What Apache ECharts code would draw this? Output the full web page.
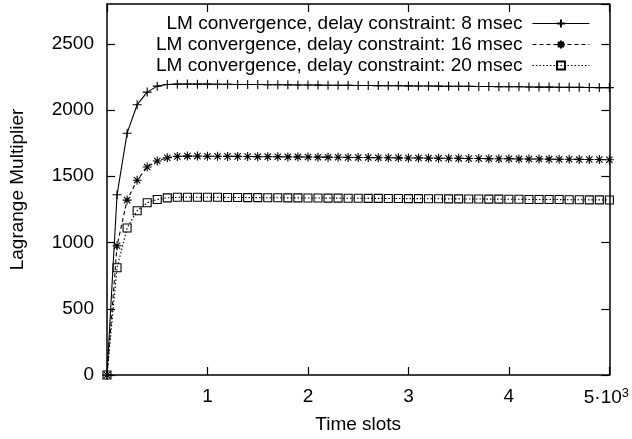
<!DOCTYPE html>
<html>
<head>
<meta charset="utf-8">
<script src="https://cdn.jsdelivr.net/npm/echarts@6/dist/echarts.min.js"></script>
<style>
html,body{margin:0;padding:0;background:#fff;}
#chart{width:632px;height:439px;}
</style>
</head>
<body>
<div id="chart"></div>
<script>
var timeSlots = [0,100,200,300,400,500,600,700,800,900,1000,1100,1200,1300,1400,1500,1600,1700,1800,1900,2000,2100,2200,2300,2400,2500,2600,2700,2800,2900,3000,3100,3200,3300,3400,3500,3600,3700,3800,3900,4000,4100,4200,4300,4400,4500,4600,4700,4800,4900,5000];
var lm8 = [0,1360,1825,2040,2135,2180,2192,2195,2196,2195,2195,2194,2194,2193,2193,2192,2191,2191,2190,2189,2189,2188,2187,2187,2186,2185,2185,2184,2183,2183,2182,2181,2181,2180,2179,2179,2178,2177,2177,2176,2175,2175,2174,2173,2173,2172,2171,2171,2170,2169,2169];
var lm16 = [0,975,1320,1470,1570,1615,1640,1650,1652,1652,1651,1651,1650,1650,1649,1648,1648,1647,1646,1646,1645,1644,1644,1643,1642,1642,1641,1640,1640,1639,1638,1638,1637,1636,1636,1635,1634,1634,1633,1632,1632,1631,1630,1630,1629,1628,1628,1627,1626,1626,1625];
var lm20 = [0,810,1110,1240,1300,1325,1337,1341,1342,1342,1341,1341,1340,1340,1339,1339,1338,1338,1337,1337,1336,1336,1335,1335,1334,1334,1333,1333,1332,1332,1331,1331,1330,1330,1329,1329,1328,1328,1327,1327,1326,1326,1325,1325,1324,1324,1323,1323,1322,1322,1321];
var seriesNames = ['LM convergence, delay constraint: 8 msec','LM convergence, delay constraint: 16 msec','LM convergence, delay constraint: 20 msec'];
var yTicks = [0,500,1000,1500,2000,2500];
var xTickLabels = {1000:'1',2000:'2',3000:'3',4000:'4',5000:'{a|5·10}{s|3}'};

var FONT = 'Liberation Sans';
var FS = 19;
function pairs(ys){ return timeSlots.map(function(x,i){ return [x, ys[i]]; }); }

var plusSym = 'path://M0,-1L0,1M-1,0L1,0';
var starSym = 'path://M0,-1L0,1M-1,0L1,0M-0.7,-0.7L0.7,0.7M-0.7,0.7L0.7,-0.7';
var boxSym = 'path://M-1,-1L1,-1L1,1L-1,1Z';

function mkSeries(name, ys, sym, size, dash){
  return {
    name: name, type: 'line', data: pairs(ys),
    xAxisIndex: 0, yAxisIndex: 0,
    symbol: sym, symbolSize: size, showAllSymbol: true,
    lineStyle: {color:'#000', width:1.1, type: dash},
    itemStyle: {color:'rgba(0,0,0,0)', borderColor:'#000', borderWidth:1.1},
    emphasis: {disabled:true},
    animation: false, z: 3
  };
}

var chart = echarts.init(document.getElementById('chart'), null, {renderer:'canvas'});
var axisLineStyle = {onZero:false, lineStyle:{color:'#000', width:1.5}};
var tickStyle = {show:true, inside:true, length:8, lineStyle:{color:'#000', width:1.2}};
chart.setOption({
  animation: false,
  backgroundColor: '#fff',
  grid: {left:105, right:22, top:4, bottom:63, containLabel:false},
  legend: {
    orient:'vertical', right:37, top:8, align:'right',
    itemWidth:57, itemHeight:10, itemGap:0,
    lineStyle:{width:1.1},
    textStyle:{fontFamily:FONT, fontSize:FS, color:'#000', lineHeight:21, padding:[0,5,0,0]},
    data: seriesNames,
    selectedMode:false
  },
  xAxis: [{
    type:'value', min:0, max:5000, interval:1000, position:'bottom',
    name:'Time slots', nameLocation:'middle', nameGap:40,
    nameTextStyle:{fontFamily:FONT, fontSize:FS, color:'#000'},
    axisLine:axisLineStyle, axisTick:tickStyle, splitLine:{show:false},
    axisLabel:{
      fontFamily:FONT, fontSize:FS, color:'#000', margin:12, showMinLabel:false,
      formatter:function(v){ return xTickLabels[v] || ''; },
      rich:{a:{fontFamily:FONT, fontSize:FS, color:'#000'}, s:{fontFamily:FONT, fontSize:13, color:'#000', verticalAlign:'top', padding:[0,6,9,0]}}
    }
  },{
    type:'value', min:0, max:5000, interval:1000, position:'top',
    axisLine:axisLineStyle, axisTick:tickStyle, axisLabel:{show:false}, splitLine:{show:false}
  }],
  yAxis: [{
    type:'value', min:0, max:2800, interval:500, position:'left',
    name:'Lagrange Multiplier', nameLocation:'middle', nameGap:80,
    nameTextStyle:{fontFamily:FONT, fontSize:FS, color:'#000'},
    axisLine:axisLineStyle, axisTick:tickStyle, splitLine:{show:false},
    axisLabel:{fontFamily:FONT, fontSize:FS, color:'#000', margin:13, showMaxLabel:false,
      formatter:function(v){ return yTicks.indexOf(v) >= 0 ? String(v) : ''; }}
  },{
    type:'value', min:0, max:2800, interval:500, position:'right',
    axisLine:axisLineStyle, axisTick:tickStyle, axisLabel:{show:false}, splitLine:{show:false}
  }],
  series: [
    mkSeries(seriesNames[0], lm8, plusSym, 9, 'solid'),
    mkSeries(seriesNames[1], lm16, starSym, 9, [4,3]),
    mkSeries(seriesNames[2], lm20, boxSym, 8, [1.5,2])
  ]
});
</script>
</body>
</html>
